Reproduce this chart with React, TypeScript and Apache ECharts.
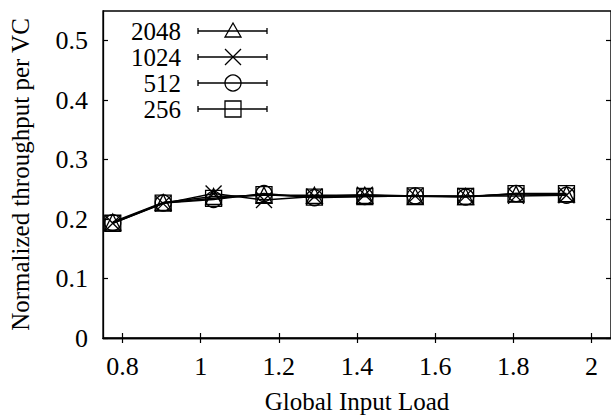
import React, { useEffect, useRef } from "react";
import * as echarts from "echarts";

const loads = [0.775, 0.904, 1.033, 1.162, 1.291, 1.42, 1.549, 1.678, 1.807, 1.936];
const s2048 = [0.195, 0.228, 0.238, 0.240, 0.240, 0.240, 0.238, 0.238, 0.242, 0.242];
const s1024 = [0.193, 0.226, 0.243, 0.232, 0.238, 0.241, 0.239, 0.239, 0.239, 0.240];
const s512 = [0.194, 0.227, 0.233, 0.243, 0.236, 0.238, 0.239, 0.237, 0.243, 0.240];
const s256 = [0.193, 0.227, 0.235, 0.241, 0.237, 0.238, 0.239, 0.238, 0.243, 0.243];
const seriesNames = ["2048", "1024", "512", "256"];
const xTicks = [0.8, 1.0, 1.2, 1.4, 1.6, 1.8, 2.0];
const yTicks = [0, 0.1, 0.2, 0.3, 0.4, 0.5];

const FONT = "Liberation Serif";
const FS = 26;
const NFS = 25;
const LFS = 25;

export default function App() {
  const ref = useRef<HTMLDivElement>(null);
  useEffect(() => {
    if (!ref.current) return;
    const styleEl = document.createElement("style");
    styleEl.textContent = `#chart-box svg text { font-family: "Liberation Serif", "Times New Roman", serif !important; }`;
    document.head.appendChild(styleEl);

    const chart = echarts.init(ref.current, null, { renderer: "svg" });
    const allValues = [s2048, s1024, s512, s256];
    const symbols = ["triangle", "path://M0,0L10,10M10,0L0,10", "circle", "rect"];
    const hollow = { color: "none", borderColor: "#000", borderWidth: 1.3 };

    const series = seriesNames.map((name, i) => ({
      name,
      type: "line",
      data: loads.map((x, j) => [x, allValues[i][j]]),
      symbol: symbols[i],
      symbolSize: 16,
      showAllSymbol: true,
      lineStyle: { color: "#000", width: 1.5 },
      itemStyle: hollow,
      z: 3,
    }));

    const legendEls: any[] = [];
    const rowY = [31, 57, 83, 109];
    const lx1 = 198, lx2 = 267, mx = 233;
    seriesNames.forEach((name, i) => {
      const y = rowY[i];
      legendEls.push({
        type: "text",
        x: 181,
        y,
        style: { text: name, fontFamily: FONT, fontSize: LFS, fill: "#000", align: "right", verticalAlign: "middle" },
      });
      const ls = { stroke: "#000", lineWidth: 1.3 };
      legendEls.push({ type: "line", shape: { x1: lx1, y1: y, x2: lx2, y2: y }, style: ls });
      legendEls.push({ type: "line", shape: { x1: lx1, y1: y - 3, x2: lx1, y2: y + 3 }, style: ls });
      legendEls.push({ type: "line", shape: { x1: lx2, y1: y - 3, x2: lx2, y2: y + 3 }, style: ls });
      const ms = { stroke: "#000", lineWidth: 1.3, fill: "none" };
      if (i === 0) {
        legendEls.push({ type: "polygon", shape: { points: [[mx, y - 8], [mx + 8, y + 6], [mx - 8, y + 6]] }, style: ms });
      } else if (i === 1) {
        legendEls.push({ type: "line", shape: { x1: mx - 8, y1: y - 8, x2: mx + 8, y2: y + 8 }, style: ms });
        legendEls.push({ type: "line", shape: { x1: mx + 8, y1: y - 8, x2: mx - 8, y2: y + 8 }, style: ms });
      } else if (i === 2) {
        legendEls.push({ type: "circle", shape: { cx: mx, cy: y, r: 8 }, style: ms });
      } else {
        legendEls.push({ type: "rect", shape: { x: mx - 8, y: y - 8, width: 16, height: 16 }, style: ms });
      }
    });

    const axisLine = { show: true, lineStyle: { color: "#000", width: 1.3 } };
    const tick = { inside: true, length: 5, lineStyle: { color: "#000", width: 1.2 } };

    chart.setOption({
      animation: false,
      textStyle: { fontFamily: FONT, color: "#000" },
      grid: { left: 102, top: 11, right: -3, bottom: 74, show: true, borderColor: "#000", borderWidth: 1.3, containLabel: false },
      xAxis: [
        {
          type: "value",
          min: 0.75,
          max: 2.05,
          position: "bottom",
          axisLine,
          axisTick: { ...tick, customValues: xTicks },
          axisLabel: { fontFamily: FONT, fontSize: FS, color: "#000", customValues: xTicks, margin: 15 },
          splitLine: { show: false },
          name: "Global Input Load",
          nameLocation: "middle",
          nameGap: 51,
          nameTextStyle: { fontFamily: FONT, fontSize: NFS, color: "#000" },
        },
        {
          type: "value",
          min: 0.75,
          max: 2.05,
          position: "top",
          axisLine,
          axisTick: { ...tick, customValues: xTicks },
          axisLabel: { show: false },
          splitLine: { show: false },
        },
      ],
      yAxis: [
        {
          type: "value",
          min: 0,
          max: 0.55,
          position: "left",
          axisLine,
          axisTick: { ...tick, customValues: yTicks },
          axisLabel: { fontFamily: FONT, fontSize: FS, color: "#000", customValues: yTicks, margin: 15 },
          splitLine: { show: false },
          name: "Normalized throughput per VC",
          nameLocation: "middle",
          nameGap: 70,
          nameTextStyle: { fontFamily: FONT, fontSize: NFS, color: "#000" },
        },
        {
          type: "value",
          min: 0,
          max: 0.55,
          position: "right",
          axisLine,
          axisTick: { ...tick, customValues: yTicks },
          axisLabel: { show: false },
          splitLine: { show: false },
        },
      ],
      series,
      graphic: legendEls,
    });
    return () => {
      chart.dispose();
      styleEl.remove();
    };
  }, []);
  return <div id="chart-box" ref={ref} style={{ position: "fixed", left: 0, top: 0, width: 611, height: 419, background: "#fff" }} />;
}
